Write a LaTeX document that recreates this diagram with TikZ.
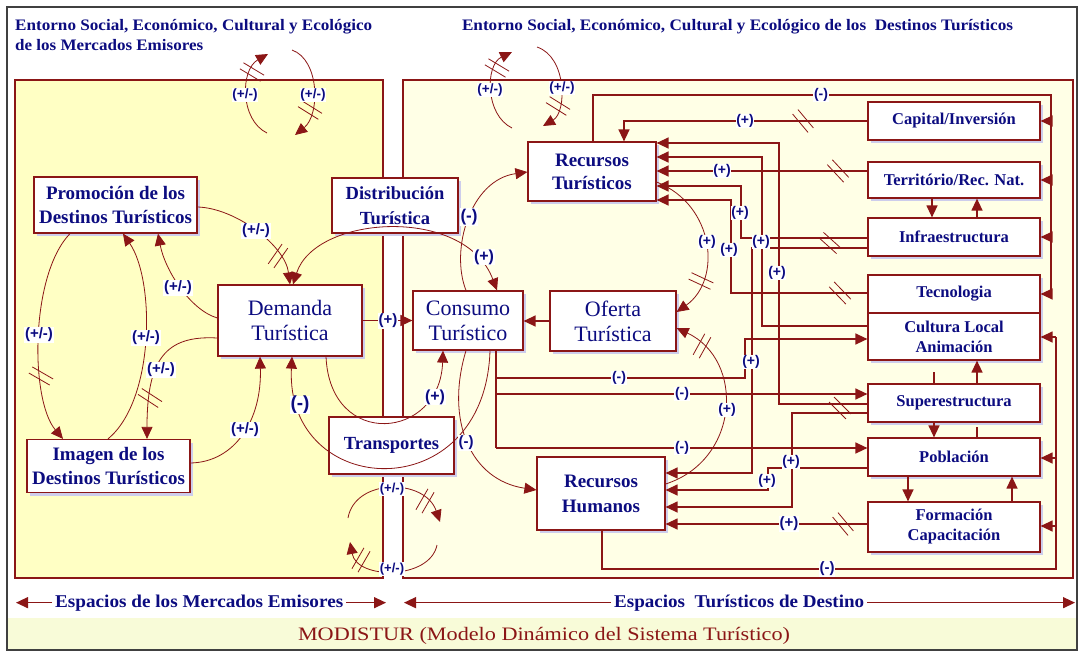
\documentclass[tikz,border=0pt]{standalone}
\usepackage{graphicx}
\usepackage{fontspec}
\setmainfont{Liberation Serif}
\newfontfamily\lsans{Liberation Sans}
\usetikzlibrary{arrows.meta,shadows}
\definecolor{dred}{RGB}{139,22,22}
\definecolor{nblue}{RGB}{12,12,128}
\definecolor{lyel}{RGB}{255,255,196}
\definecolor{cream}{RGB}{255,255,230}
\definecolor{bandc}{RGB}{248,251,216}
\definecolor{shadowc}{RGB}{205,205,236}
\newcommand\hsh[3]{\begin{scope}[shift={(#1,#2)},rotate=#3]\draw[dred,line width=0.8pt] (-12,-3.5)--(12,-3.5) (-12,3.5)--(12,3.5);\end{scope}}
\tikzset{
 con/.style={draw=dred, line width=1.3pt},
 arcl/.style={draw=dred, line width=0.8pt},
 tip/.style={-{Triangle[length=12pt,width=11pt]}},
 bx/.style={draw=dred, line width=1.2pt, fill=white, align=center, text=nblue, inner sep=1pt,
   drop shadow={shadow xshift=3pt, shadow yshift=-3pt, fill=shadowc, opacity=1}},
 lbl/.style={fill=white, text=nblue, inner sep=0.6pt, font=\lsans\bfseries\fontsize{#1}{#1}\selectfont},
 lbl/.default=14,
 ttl/.style={text=nblue, inner sep=0pt, font=\bfseries\fontsize{16}{18}\selectfont},
}
\newcommand\bxf{\bfseries\fontsize{19}{24}\selectfont}
\newcommand\rbf{\bfseries\fontsize{16.5}{20}\selectfont}
\newcommand\bigf{\fontsize{22}{25}\selectfont}
\begin{document}
\begin{tikzpicture}[x=1pt,y=-1pt]
\useasboundingbox (0,0) rectangle (1079,653);
\fill[white] (0,0) rectangle (1079,653);
% backgrounds
\fill[bandc] (8,618) rectangle (1076,650);
\fill[lyel] (15,80) rectangle (383,578);
\fill[cream] (403,80) rectangle (1073,578);
\draw[dred, line width=2.6pt] (15,80) rectangle (383,578);
\draw[dred, line width=2.6pt] (403,80) rectangle (1073,578);
\draw[black!75, line width=1.2pt] (7,7) rectangle (1077,650);

% titles
\node[ttl, anchor=base west] (t1) at (15,30) {\resizebox{357pt}{\height}{Entorno Social, Económico, Cultural y Ecológico}};
\node[ttl, anchor=base west] (t2) at (15,50) {\resizebox{188pt}{\height}{de los Mercados Emisores}};
\node[ttl, anchor=base] (t3) at (737.5,30) {\resizebox{551pt}{\height}{Entorno Social, Económico, Cultural y Ecológico de los\ \ Destinos Turísticos}};

% bottom
\node[ttl, anchor=base west, inner xsep=3pt, font=\bfseries\fontsize{18}{20}\selectfont] (e1) at (52,607) {\resizebox{288pt}{\height}{Espacios de los Mercados Emisores}};
\node[ttl, anchor=base west, inner xsep=3pt, font=\bfseries\fontsize{18}{20}\selectfont] (e2) at (611,607) {\resizebox{250pt}{\height}{Espacios\ \ Turísticos de Destino}};
\draw[con, tip] (e1.west) -- (e1.west -| 16,0);
\draw[con, tip] (e1.east) -- (e1.east -| 386,0);
\draw[con, tip] (e2.west) -- (e2.west -| 404,0);
\draw[con, tip] (e2.east) -- (e2.east -| 1075,0);
\node[anchor=base, inner sep=0pt, text=dred, font=\fontsize{19}{21}\selectfont] (mod) at (544,640) {\resizebox{492pt}{\height}{MODISTUR (Modelo Dinámico del Sistema Turístico)}};

% boxes
\node[bx, minimum width=163pt, minimum height=56pt, font=\bxf] (prom) at (115.5,205) {Promoción de los\\Destinos Turísticos};
\node[bx, minimum width=163pt, minimum height=53pt, font=\bxf] (img) at (108.5,466) {Imagen de los\\Destinos Turísticos};
\node[bx, minimum width=144pt, minimum height=71pt, font=\bigf] (dem) at (290,320.5) {Demanda\\Turística};
\node[bx, minimum width=126pt, minimum height=55pt, font=\bfseries\fontsize{18.5}{25}\selectfont] (dist) at (395,205.5) {Distribución\\Turística};
\node[bx, minimum width=125pt, minimum height=57pt, font=\bfseries\fontsize{18.5}{20}\selectfont] (trans) at (391.5,445.5) {Transportes};
\node[bx, minimum width=110pt, minimum height=59pt, font=\bigf] (cons) at (468,320.5) {Consumo\\Turístico};
\node[bx, minimum width=126pt, minimum height=60pt, font=\bigf] (ofer) at (613,321) {Oferta\\Turística};
\node[bx, minimum width=128pt, minimum height=59pt, font=\bfseries\fontsize{19}{23}\selectfont] (rt) at (592,171.5) {Recursos\\Turísticos};
\node[bx, minimum width=128pt, minimum height=73pt, font=\bfseries\fontsize{19}{25}\selectfont] (rh) at (601,493.5) {Recursos\\Humanos};
\node[bx, minimum width=172pt, minimum height=38pt, font=\rbf] (cap) at (954,121) {Capital/Inversión};
\node[bx, minimum width=172pt, minimum height=36pt, font=\rbf] (terr) at (954,180) {Território/Rec. Nat.};
\node[bx, minimum width=172pt, minimum height=38pt, font=\rbf] (infra) at (954,237) {Infraestructura};
\node[bx, minimum width=172pt, minimum height=38pt, font=\rbf] (tec) at (954,294) {Tecnologia};
\node[bx, minimum width=172pt, minimum height=47pt, font=\rbf] (cult) at (954,336.5) {Cultura Local\\Animación};
\node[bx, minimum width=172pt, minimum height=38pt, font=\rbf] (sup) at (954,403) {Superestructura};
\node[bx, minimum width=172pt, minimum height=38pt, font=\rbf] (pob) at (954,457) {Población};
\node[bx, minimum width=172pt, minimum height=50pt, font=\rbf] (form) at (954,527) {Formación\\Capacitación};

% straight connectors centre
\draw[con, tip] (dem.east) -- (cons.west);
\node[lbl=15] at (388,321) {(+)};
\draw[con, tip] (ofer.west) -- (cons.east |- ofer.west);

% RT (-) top bus
\draw[con] (rt.north -| 593,0) -- (593,95) -- (1051,95) -- (1051,294);
\node[lbl] at (821,95) {(-)};
\foreach \n/\y in {cap/121, terr/180, infra/237, tec/294} \draw[con,tip] (1051,\y) -- (\n.east |- 0,\y);
% capital -> RT
\draw[con, tip] (cap.west) -- (624,121) -- (rt.north -| 624,0);
\node[lbl] at (745,121) {(+)};
\hsh{803}{121}{-50}
% into RT
\draw[con,tip] (sup.west |- 0,404) -- (779,404) -- (779,143) -- (rt.east |- 0,143);
\draw[con,tip] (cult.west |- 0,326) -- (762,326) -- (762,157) -- (rt.east |- 0,157);
\draw[con,tip] (terr.west |- 0,171) -- (rt.east |- 0,171);
\draw[con,tip] (infra.west |- 0,238) -- (741,238) -- (741,186) -- (rt.east |- 0,186);
\draw[con,tip] (tec.west |- 0,293) -- (731,293) -- (731,200) -- (rt.east |- 0,200);
\hsh{838}{171}{-47}
\hsh{830}{243}{-42}
\hsh{840}{293}{-46}
\hsh{840}{408}{-45}
% into RH
\draw[con,tip] (infra.west |- 0,248) -- (752,248) -- (752,473) -- (rh.east |- 0,473);
\draw[con,tip] (pob.west |- 0,468) -- (768,468) -- (768,490) -- (rh.east |- 0,490);
\draw[con,tip] (sup.west |- 0,413) -- (792,413) -- (792,507) -- (rh.east |- 0,507);
\draw[con,tip] (form.west |- 0,524) -- (rh.east |- 0,524);
\hsh{843}{524}{-50}
% consumo (-) lines
\draw[con] (cons.south -| 496,0) -- (496,448);
\draw[con,tip] (496,378) -- (745,378) -- (745,339) -- (cult.west |- 0,339);
\draw[con,tip] (496,394) -- (sup.west |- 0,394);
\draw[con,tip] (496,448) -- (pob.west |- 0,448);
% RH bottom bus
\draw[dred, line width=2.8pt] (rh.south -| 602,0) -- (602,569) -- (1056,569) -- (1056,337);
\foreach \n/\y in {cult/337, pob/458, form/526} \draw[con,tip] (1056,\y) -- (\n.east |- 0,\y);
% vertical inter-box
\draw[con,tip] (terr.south -| 932,0) -- (infra.north -| 932,0);
\draw[con,tip] (infra.north -| 977,0) -- (terr.south -| 977,0);
\draw[con] (sup.north -| 934,0) -- (934,372);
\draw[con,tip] (sup.north -| 977,0) -- (cult.south -| 977,0);
\draw[con,tip] (sup.south -| 934,0) -- (pob.north -| 934,0);
\draw[con] (pob.north -| 977,0) -- (977,427);
\draw[con,tip] (pob.south -| 908,0) -- (form.north -| 908,0);
\draw[con,tip] (form.north -| 1012,0) -- (pob.south -| 1012,0);

% arcs left panel
\draw[arcl,tip] (prom.east |- 0,207) .. controls (235,208) and (285,245) .. (dem.north -| 290,0);
\draw[arcl,tip] (dem.west |- 0,318) .. controls (190,310) and (165,270) .. (prom.south -| 158,0);
\draw[arcl,tip] (prom.south -| 70,0) .. controls (30,275) and (30,400) .. (img.north -| 63,0);
\draw[arcl,tip] (img.north -| 108,0) .. controls (155,400) and (155,280) .. (prom.south -| 123,0);
\draw[arcl,tip] (dem.west |- 0,338) .. controls (165,335) and (147,360) .. (img.north -| 147,0);
\draw[arcl,tip] (img.east |- 0,463) .. controls (235,462) and (262,420) .. (dem.south -| 260,0);
\hsh{278}{256}{55}
\hsh{41}{376}{-30}
\hsh{150}{398}{-33}
\node[lbl=15] at (256,231) {(+/-)};
\node[lbl=15] at (178,288) {(+/-)};
\node[lbl=15] at (39,335) {(+/-)};
\node[lbl=15] at (146,338) {(+/-)};
\node[lbl=15] at (161,370) {(+/-)};
\node[lbl=15] at (245,430) {(+/-)};

% distribution / transport arcs
\draw[arcl,{Triangle[length=12pt,width=11pt]}-{Triangle[length=12pt,width=11pt]}] (dem.north -| 293,0) .. controls (315,215) and (465,205) .. (cons.north -| 497,0);
\node[lbl=16] at (484,257) {(+)};
\draw[arcl,tip] (cons.north -| 466,0) .. controls (450,250) and (470,180) .. (rt.west |- 0,172);
\node[lbl=17] at (469,217) {(-)};
\draw[arcl,tip] (dem.south -| 326,0) .. controls (330,450) and (440,440) .. (cons.south -| 443,0);
\node[lbl=16] at (435,397) {(+)};
\draw[arcl,tip] (cons.south -| 490,0) .. controls (485,510) and (285,500) .. (dem.south -| 292,0);
\node[lbl=19] at (300,405) {(-)};
\draw[arcl,tip] (cons.south -| 466,0) .. controls (445,420) and (470,480) .. (rh.west |- 0,490);
\node[lbl=15] at (466,443) {(-)};

% RT/RH -> Oferta
\draw[arcl,tip] (rt.east |- 0,182) .. controls (715,205) and (722,280) .. (ofer.east |- 0,312);
\hsh{701}{281}{-25}
\node[lbl] at (707,242) {(+)};
\draw[arcl,tip] (rh.east |- 0,484) .. controls (740,460) and (745,360) .. (ofer.east |- 0,328);
\hsh{702}{346}{61}
\node[lbl] at (727,410) {(+)};

% labels right region
\node[lbl] at (777,273) {(+)};
\node[lbl] at (761,242) {(+)};
\node[lbl] at (722,171) {(+)};
\node[lbl] at (740,213) {(+)};
\node[lbl] at (729,250) {(+)};
\node[lbl] at (751,362) {(+)};
\node[lbl] at (767,481) {(+)};
\node[lbl] at (791,462) {(+)};
\node[lbl=15] at (789,524) {(+)};
\node[lbl] at (619,378) {(-)};
\node[lbl] at (682,394) {(-)};
\node[lbl] at (682,448) {(-)};
\node[lbl=15] at (827,569) {(-)};

% loops
\coordinate (la) at (267,133); \coordinate (lb) at (268,54);
\coordinate (lc) at (292,50); \coordinate (ld) at (295,135);
\draw[arcl,tip] (la) .. controls (240,120) and (240,70) .. (lb);
\draw[arcl,tip] (lc) .. controls (320,60) and (320,115) .. (ld);
\hsh{252}{72}{-31}
\hsh{310}{110}{-32}
\node[lbl=13.5] at (245,95) {(+/-)};
\node[lbl=13.5] at (313,95) {(+/-)};
\coordinate (ra) at (512,128); \coordinate (rb) at (512,52);
\coordinate (rc) at (537,47); \coordinate (rd) at (543,126);
\draw[arcl,tip] (ra) .. controls (485,115) and (485,65) .. (rb);
\draw[arcl,tip] (rc) .. controls (567,57) and (567,112) .. (rd);
\hsh{497}{68}{-31}
\hsh{558}{106}{-32}
\node[lbl=13.5] at (490,90) {(+/-)};
\node[lbl=13.5] at (562,88) {(+/-)};
\coordinate (ba) at (348,518); \coordinate (bb) at (440,522);
\coordinate (bc) at (437,545); \coordinate (bd) at (350,542);
\draw[arcl,tip] (ba) .. controls (355,478) and (425,478) .. (bb);
\draw[arcl,tip] (bc) .. controls (430,580) and (357,580) .. (bd);
\hsh{425}{501}{60}
\hsh{361}{560}{60}
\node[lbl=13] at (392,489) {(+/-)};
\node[lbl=13] at (392,569) {(+/-)};
\end{tikzpicture}
\end{document}
